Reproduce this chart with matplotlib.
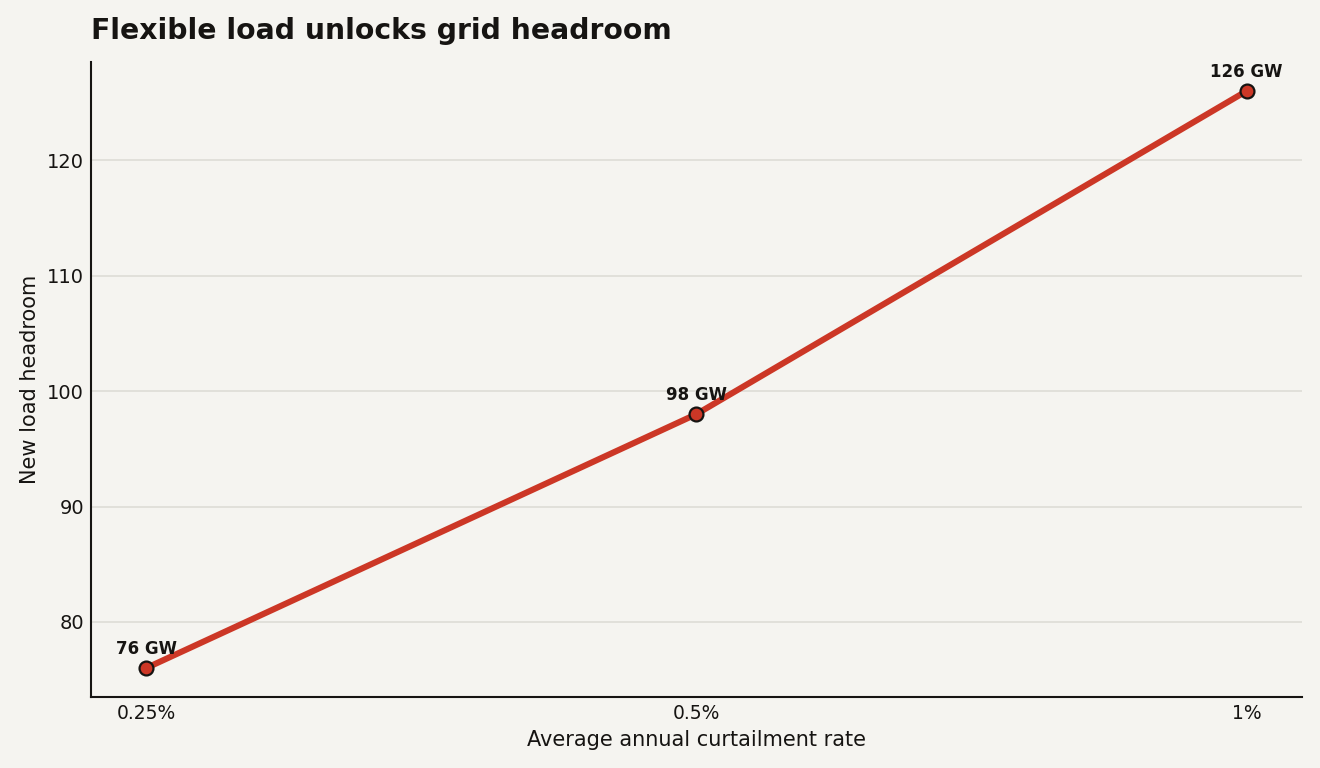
import matplotlib.pyplot as plt

# data
rates = ['0.25%', '0.5%', '1%']
headroom_gw = [76, 98, 126]
point_labels = ['76 GW', '98 GW', '126 GW']

BG = '#f5f4f0'
RED = '#cc3726'
INK = '#161412'

fig = plt.figure(figsize=(13.2, 7.68), dpi=100, facecolor=BG)
ax = fig.add_axes([0.069, 0.0925, 0.917, 0.8265], facecolor=BG)

x = list(range(len(rates)))
ax.plot(x, headroom_gw, color=RED, linewidth=4.4, solid_capstyle='round', zorder=3)
ax.plot(x, headroom_gw, linestyle='none', marker='o', markersize=10,
        markerfacecolor=RED, markeredgecolor=INK, markeredgewidth=1.6, zorder=4)

for xi, yi, lab in zip(x, headroom_gw, point_labels):
    ax.annotate(lab, (xi, yi), xytext=(0, 7.5), textcoords='offset points',
                ha='center', va='bottom', fontsize=12, fontweight='bold',
                color=INK, zorder=5)

ax.set_xticks(x)
ax.set_xticklabels(rates)
ax.set_yticks([80, 90, 100, 110, 120])
ax.margins(x=0.05, y=0.05)
ax.tick_params(length=0, labelsize=14, colors=INK, pad=5)
ax.tick_params(axis='x', labelsize=13.5, pad=5)

ax.grid(axis='y', color='#dedcd6', linewidth=1.2)
ax.set_axisbelow(True)
for side in ['top', 'right']:
    ax.spines[side].set_visible(False)
for side in ['left', 'bottom']:
    ax.spines[side].set_color(INK)
    ax.spines[side].set_linewidth(1.5)

ax.set_xlabel('Average annual curtailment rate', fontsize=15, color=INK, labelpad=5)
ax.set_ylabel('New load headroom', fontsize=15, color=INK, labelpad=5)
fig.text(0.069, 0.959, 'Flexible load unlocks grid headroom', fontsize=20.3,
         fontweight='bold', color=INK, ha='left', va='center')

fig.savefig('out.png', dpi=100, facecolor=BG)
